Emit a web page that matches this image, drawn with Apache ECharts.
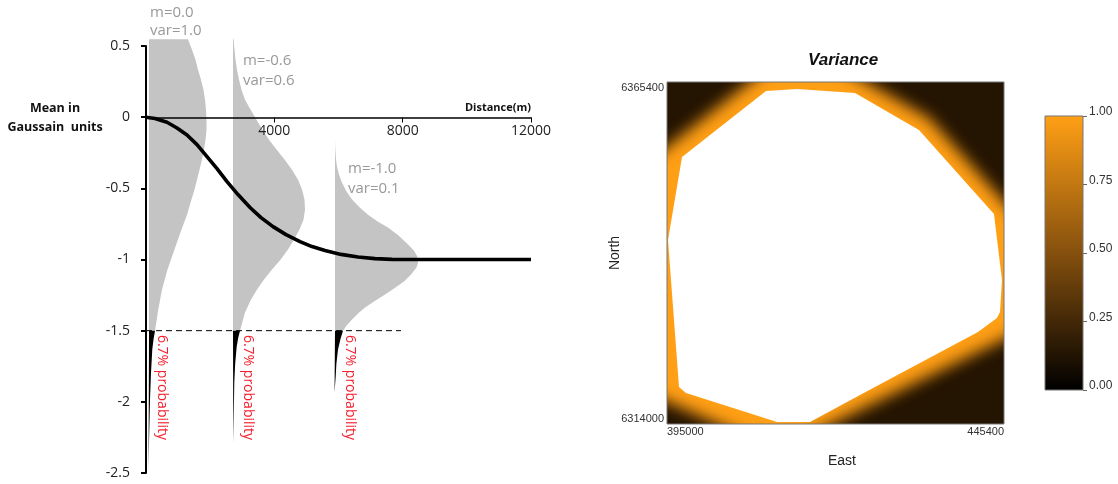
<!DOCTYPE html>
<html>
<head>
<meta charset="utf-8">
<style>
  html, body { margin: 0; padding: 0; background: #fff; }
  #chart { width: 1118px; height: 484px; }
</style>
<script src="https://cdn.jsdelivr.net/npm/echarts@6/dist/echarts.min.js"></script>
</head>
<body>
<div id="chart"></div>
<script>
// left panel: mean curve and the three gaussians, [distance, mean]
const meanCurve = [[0, 0], [281, -0.009], [655, -0.036], [966, -0.076], [1278, -0.125], [1590, -0.193], [1901, -0.277], [2213, -0.362], [2525, -0.453], [2867, -0.544], [3242, -0.635], [3585, -0.706], [3959, -0.769], [4364, -0.825], [4800, -0.874], [5174, -0.909], [5579, -0.937], [6078, -0.964], [6608, -0.983], [7138, -0.994], [7668, -0.999], [8541, -1], [12000, -1]]
const threshold = [[0, -1.5], [7948, -1.5]]

const gauss1 = [[94, 0.548], [1309, 0.548], [1434, 0.474], [1543, 0.404], [1621, 0.334], [1714, 0.263], [1792, 0.193], [1839, 0.123], [1870, 0.053], [1886, -0.018], [1886, -0.088], [1855, -0.158], [1808, -0.228], [1746, -0.298], [1668, -0.369], [1590, -0.439], [1512, -0.509], [1418, -0.579], [1278, -0.685], [1107, -0.79], [888, -0.93], [670, -1.071], [499, -1.211], [383, -1.352], [281, -1.5], [94, -1.5]]
const gauss2 = [[2712, 0.551], [2727, 0.551], [2759, 0.474], [2790, 0.404], [2836, 0.334], [2899, 0.263], [2977, 0.193], [3086, 0.123], [3257, 0.053], [3444, -0.018], [3631, -0.088], [3834, -0.158], [4068, -0.228], [4317, -0.298], [4551, -0.369], [4738, -0.439], [4863, -0.509], [4940, -0.579], [4956, -0.65], [4909, -0.72], [4785, -0.79], [4613, -0.86], [4426, -0.93], [4192, -1.001], [3927, -1.071], [3678, -1.141], [3460, -1.211], [3273, -1.281], [3086, -1.373], [2930, -1.5], [2712, -1.5]]
const gauss3 = [[5891, -0.158], [5901, -0.228], [5922, -0.298], [5953, -0.348], [6016, -0.404], [6109, -0.46], [6250, -0.523], [6421, -0.579], [6670, -0.636], [6920, -0.685], [7231, -0.734], [7543, -0.776], [7870, -0.832], [8167, -0.895], [8354, -0.938], [8463, -0.98], [8478, -1.022], [8432, -1.057], [8260, -1.106], [8042, -1.155], [7730, -1.204], [7450, -1.246], [7107, -1.295], [6826, -1.338], [6608, -1.38], [6421, -1.422], [6250, -1.464], [6140, -1.5], [5891, -1.5]]

const tail1 = [[94, -1.5], [281, -1.5], [235, -1.56], [196, -1.633], [155, -1.8], [125, -1.984], [94, -2.286], [78, -2.475]]
const tail2 = [[2712, -1.5], [2930, -1.5], [2875, -1.55], [2827, -1.612], [2780, -1.73], [2752, -1.864], [2721, -2.286]]
const tail3 = [[5891, -1.5], [6140, -1.5], [6060, -1.56], [5985, -1.633], [5935, -1.73], [5913, -1.822], [5876, -1.935]]

const grayNotes = [[125, 0.734, 'm=0.0'], [125, 0.607, 'var=1.0'], [3023, 0.397, 'm=-0.6'], [3023, 0.256, 'var=0.6'], [6296, -0.362, 'm=-1.0'], [6296, -0.502, 'var=0.1']]
const redNotes = [[489, -1.53, '6.7% probability'], [3179, -1.53, '6.7% probability'], [6359, -1.53, '6.7% probability']]

// right panel: variance map, [east, north]
const eastTicks = [395000, 445400]
const northTicks = [6314000, 6365400]
const frame = [[395000, 6314000], [445400, 6314000], [445400, 6365400], [395000, 6365400]]
const dataHull = [[395150, 6341655], [397243, 6354130], [409805, 6364050], [414442, 6364350], [423115, 6363750], [432687, 6358190], [443903, 6345560], [445099, 6335645], [444800, 6330835], [444352, 6329930], [441511, 6327830], [423863, 6318360], [416386, 6314300], [411451, 6314300], [397841, 6318660], [396795, 6319560]]
// where the map turns half dark, one zone per corner
const darkTL = [[385280, 6347938], [416685, 6372738], [384532, 6373670]]
const darkTR = [[415787, 6370515], [434182, 6359995], [455268, 6336246], [456016, 6371415]]
const darkBR = [[455327, 6331603], [411359, 6309960], [455867, 6308890]]
const darkBL = [[384892, 6321876], [411212, 6310153], [384532, 6309341]]

const colorbarTicks = [0, 0.25, 0.5, 0.75, 1]

const ORANGE = '#ff9f15'
const DARK = '#241402'
const LEFT_FONT = '"Open Sans"'
const RIGHT_FONT = '"Liberation Sans"'

// filled shape on a grid, points go through the axes
const shape = (name, points, axis, style, z) => ({
  name,
  type: 'custom',
  xAxisIndex: axis,
  yAxisIndex: axis,
  clip: false,
  silent: true,
  z: z || 1,
  data: points,
  encode: { x: 0, y: 1 },
  renderItem(params, api) {
    if (params.dataIndex !== 0) return null
    return {
      type: 'polygon',
      shape: { points: points.map((p) => api.coord(p)) },
      style,
    }
  },
})

// only the blurred shadow of the zone is seen, the shape itself sits off the page
const darkZone = (name, points) => ({
  name,
  type: 'custom',
  xAxisIndex: 1,
  yAxisIndex: 1,
  clip: true,
  silent: true,
  z: 1,
  data: points,
  encode: { x: 0, y: 1 },
  renderItem(params, api) {
    if (params.dataIndex !== 0) return null
    return {
      type: 'polygon',
      x: -3000,
      shape: { points: points.map((p) => api.coord(p)) },
      style: { fill: DARK, shadowColor: DARK, shadowBlur: 15, shadowOffsetX: 3000 },
    }
  },
})

const notes = (name, rows, rotation, color, size) => ({
  name,
  type: 'custom',
  xAxisIndex: 0,
  yAxisIndex: 0,
  clip: false,
  silent: true,
  z: 6,
  data: rows,
  encode: { x: 0, y: 1 },
  renderItem(params, api) {
    const row = rows[params.dataIndex]
    const pos = api.coord([row[0], row[1]])
    return {
      type: 'text',
      x: pos[0],
      y: pos[1],
      rotation,
      style: {
        text: row[2],
        fill: color,
        fontFamily: LEFT_FONT,
        fontSize: size,
        align: 'left',
        verticalAlign: 'middle',
      },
    }
  },
})

const chart = echarts.init(document.getElementById('chart'), null, { renderer: 'canvas' })

chart.setOption({
  animation: false,
  backgroundColor: '#fff',
  title: {
    text: 'Variance',
    left: 803,
    top: 47,
    textStyle: { fontFamily: RIGHT_FONT, fontSize: 17, fontWeight: 'bold', fontStyle: 'italic', color: '#111' },
  },
  graphic: [
    {
      type: 'text',
      x: 55,
      y: 99,
      style: {
        text: 'Mean in\nGaussain  units',
        align: 'center',
        fill: '#111',
        fontFamily: LEFT_FONT,
        fontSize: 12.5,
        fontWeight: 'bold',
        lineHeight: 19,
      },
    },
  ],
  grid: [
    { left: 146, top: 46, width: 385, height: 427, outerBoundsMode: 'none' },
    { left: 667, top: 82, width: 337, height: 342, outerBoundsMode: 'none', show: true, borderColor: '#777', borderWidth: 1, z: 6, backgroundColor: 'transparent' },
    { left: 1045, top: 116, width: 38, height: 274, outerBoundsMode: 'none', show: true, borderColor: '#777', borderWidth: 1, backgroundColor: 'transparent', z: 6 },
  ],
  xAxis: [
    {
      gridIndex: 0,
      type: 'value',
      z: 5,
      min: 0,
      max: 12000,
      interval: 4000,
      offset: -355.5, // sits on y = 0, labels go with it
      name: 'Distance(m)',
      nameLocation: 'end',
      nameGap: 0,
      nameTextStyle: { fontFamily: LEFT_FONT, fontSize: 11, fontWeight: 'bold', color: '#111', align: 'right', verticalAlign: 'bottom', padding: [0, 0, 4, 0] },
      splitLine: { show: false },
      axisLine: { show: true, onZero: false, lineStyle: { color: '#000', width: 1.5 } },
      axisTick: { show: true, length: 5, lineStyle: { color: '#000', width: 1 } },
      axisLabel: {
        margin: 7,
        color: '#222',
        fontFamily: LEFT_FONT,
        fontSize: 14,
        showMinLabel: false,
        formatter: (v) => String(v),
      },
    },
    {
      gridIndex: 1,
      type: 'value',
      min: 395000,
      max: 445400,
      name: 'East',
      nameLocation: 'middle',
      nameGap: 30,
      nameTextStyle: { fontFamily: RIGHT_FONT, fontSize: 14, color: '#222', padding: [0, 0, 0, 13] },
      splitLine: { show: false },
      axisLine: { show: false },
      axisTick: { show: false },
      axisLabel: {
        customValues: eastTicks,
        margin: 2,
        color: '#333',
        fontFamily: RIGHT_FONT,
        fontSize: 11,
        alignMinLabel: 'left',
        alignMaxLabel: 'right',
        formatter: (v) => String(v),
      },
    },
    { gridIndex: 2, type: 'category', data: ['var'], show: false },
  ],
  yAxis: [
    {
      gridIndex: 0,
      type: 'value',
      z: 5,
      min: -2.5,
      max: 0.5,
      interval: 0.5,
      splitLine: { show: false },
      axisLine: { show: true, lineStyle: { color: '#000', width: 2 } },
      axisTick: { show: true, length: 5, lineStyle: { color: '#000', width: 2 } },
      axisLabel: { margin: 16, color: '#222', fontFamily: LEFT_FONT, fontSize: 14 },
    },
    {
      gridIndex: 1,
      type: 'value',
      min: 6314000,
      max: 6365400,
      name: 'North',
      nameLocation: 'middle',
      nameGap: 52,
      nameRotate: 90,
      nameMoveOverlap: false,
      nameTextStyle: { fontFamily: RIGHT_FONT, fontSize: 14, color: '#222', verticalAlign: 'middle' },
      splitLine: { show: false },
      axisLine: { show: false },
      axisTick: { show: false },
      axisLabel: {
        customValues: northTicks,
        margin: 3,
        color: '#333',
        fontFamily: RIGHT_FONT,
        fontSize: 11,
        verticalAlignMinLabel: 'bottom',
        verticalAlignMaxLabel: 'top',
        formatter: (v) => String(v),
      },
    },
    {
      gridIndex: 2,
      type: 'value',
      position: 'right',
      min: 0,
      max: 1,
      interval: 0.25,
      splitLine: { show: false },
      axisLine: { show: false },
      axisTick: { show: true, length: 4, lineStyle: { color: '#666', width: 1 } },
      axisLabel: {
        margin: 6,
        color: '#333',
        fontFamily: RIGHT_FONT,
        fontSize: 12,
        verticalAlign: 'bottom',
        lineHeight: 8,
        formatter: (v) => v.toFixed(2),
      },
    },
  ],
  series: [
    shape('gauss1', gauss1, 0, { fill: '#c4c4c4' }),
    shape('gauss2', gauss2, 0, { fill: '#c4c4c4' }),
    shape('gauss3', gauss3, 0, { fill: '#c4c4c4' }),
    shape('tail1', tail1, 0, { fill: '#000' }),
    shape('tail2', tail2, 0, { fill: '#000' }),
    shape('tail3', tail3, 0, { fill: '#000' }),
    {
      name: 'threshold',
      type: 'line',
      z: 4,
      data: threshold,
      symbol: 'none',
      lineStyle: { color: '#000', width: 1, type: [6, 4] },
    },
    {
      name: 'mean',
      type: 'line',
      data: meanCurve,
      symbol: 'none',
      z: 5,
      lineStyle: { color: '#000', width: 3.6, join: 'round' },
    },
    notes('grayNotes', grayNotes, 0, '#999', 15),
    notes('redNotes', redNotes, -Math.PI / 2, '#f52030', 14),

    shape('varianceBase', frame, 1, { fill: ORANGE }),
    darkZone('darkTL', darkTL),
    darkZone('darkTR', darkTR),
    darkZone('darkBR', darkBR),
    darkZone('darkBL', darkBL),
    shape('dataHull', dataHull, 1, { fill: '#fff' }, 2),

    {
      name: 'colorbar',
      type: 'bar',
      xAxisIndex: 2,
      yAxisIndex: 2,
      data: [colorbarTicks[colorbarTicks.length - 1]],
      barWidth: '100%',
      silent: true,
      itemStyle: {
        color: {
          type: 'linear',
          x: 0, y: 0, x2: 0, y2: 1,
          colorStops: [
            { offset: 0, color: ORANGE },
            { offset: 0.5, color: '#85500e' },
            { offset: 1, color: '#000' },
          ],
        },
      },
    },
  ],
})
</script>
</body>
</html>
